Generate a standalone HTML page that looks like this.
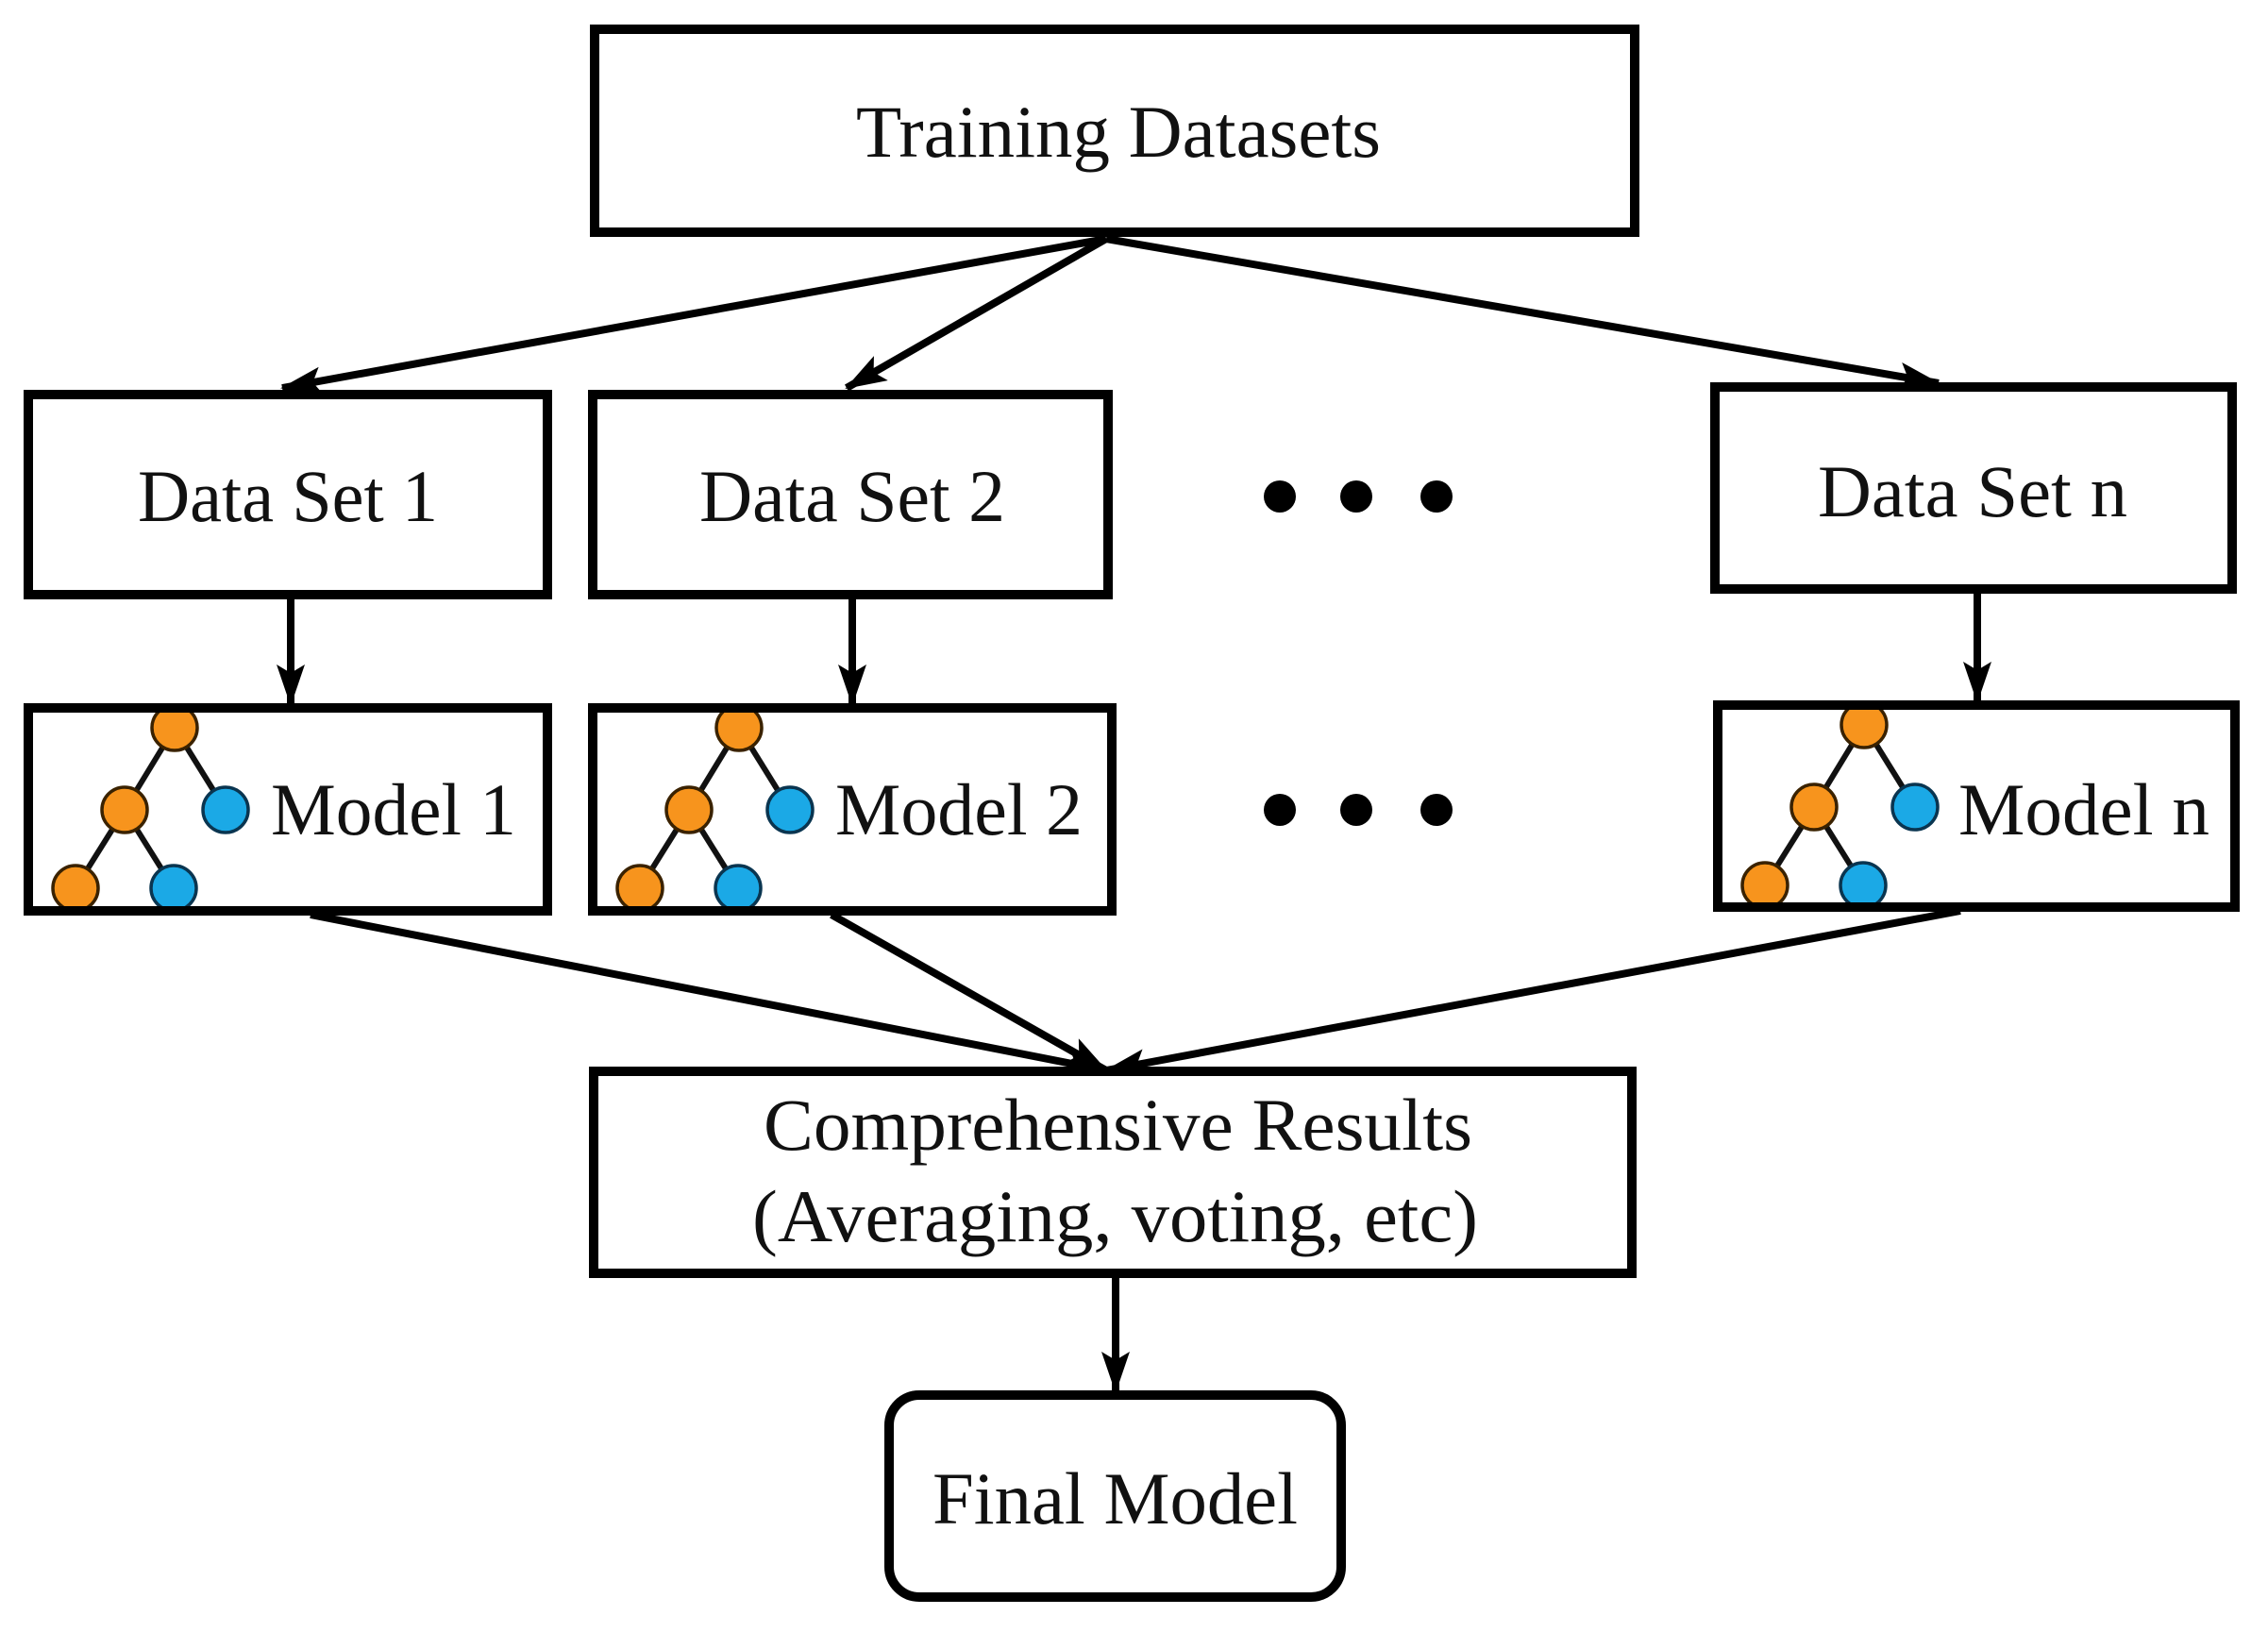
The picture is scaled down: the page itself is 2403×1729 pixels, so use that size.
<!DOCTYPE html>
<html><head><meta charset="utf-8"><style>html,body{margin:0;padding:0;background:#fff}svg{display:block}</style></head>
<body>
<svg width="2403" height="1729" viewBox="0 0 2403 1729" xmlns="http://www.w3.org/2000/svg">
<defs>
<marker id="ah" markerWidth="44" markerHeight="30" refX="42" refY="15" orient="auto" markerUnits="userSpaceOnUse">
<path d="M0,0 L44,15 L0,30 L9,15 Z" fill="#000"/>
</marker>
<g id="tree">
<g stroke="#111" stroke-width="6">
<line x1="159" y1="25" x2="106" y2="112"/><line x1="159" y1="25" x2="213" y2="112"/>
<line x1="106" y1="112" x2="54" y2="195"/><line x1="106" y1="112" x2="158" y2="195"/>
</g>
<g stroke="#3a2200" stroke-width="3.5">
<circle cx="159" cy="25" r="24" fill="#F7941D"/>
<circle cx="106" cy="112" r="24" fill="#F7941D"/>
<circle cx="54" cy="195" r="24" fill="#F7941D"/>
</g>
<g stroke="#0a3550" stroke-width="3.5">
<circle cx="213" cy="112" r="24" fill="#1BA9E6"/>
<circle cx="158" cy="195" r="24" fill="#1BA9E6"/>
</g>
</g>
</defs>
<g font-family="'Liberation Serif', serif" fill="#111" font-size="78">
<g stroke="#000" stroke-width="8" fill="none">
<line x1="1172" y1="253" x2="299" y2="411" marker-end="url(#ah)"/>
<line x1="1172" y1="253" x2="897" y2="411" marker-end="url(#ah)"/>
<line x1="1172" y1="253" x2="2054" y2="406" marker-end="url(#ah)"/>
<line x1="308" y1="634" x2="308" y2="746" marker-end="url(#ah)"/>
<line x1="903" y1="634" x2="903" y2="746" marker-end="url(#ah)"/>
<line x1="2095" y1="628" x2="2095" y2="743" marker-end="url(#ah)"/>
<line x1="329" y1="969" x2="1172" y2="1134" marker-end="url(#ah)"/>
<line x1="881" y1="969" x2="1172" y2="1134" marker-end="url(#ah)"/>
<line x1="2077" y1="965" x2="1172" y2="1134" marker-end="url(#ah)"/>
<line x1="1182" y1="1353" x2="1182" y2="1474" marker-end="url(#ah)"/>
</g>
<g stroke="#000" stroke-width="10" fill="#fff">
<rect x="630" y="31" width="1102" height="215"/>
<rect x="30" y="418" width="550" height="212"/>
<rect x="628" y="418" width="546" height="212"/>
<rect x="1817" y="410" width="548" height="214"/>
<rect x="30" y="750" width="550" height="215"/>
<rect x="628" y="750" width="550" height="215"/>
<rect x="1820" y="747" width="548" height="214"/>
<rect x="629" y="1135" width="1100" height="214"/>
<rect x="942" y="1478" width="479" height="214" rx="32"/>
</g>
<use href="#tree" x="26" y="746"/>
<use href="#tree" x="624" y="746"/>
<use href="#tree" x="1816" y="743"/>
<g stroke="#000" stroke-width="10" fill="none">
<rect x="30" y="750" width="550" height="215"/>
<rect x="628" y="750" width="550" height="215"/>
<rect x="1820" y="747" width="548" height="214"/>
</g>
<g fill="#000">
<circle cx="1356" cy="526" r="17"/><circle cx="1437" cy="526" r="17"/><circle cx="1522" cy="526" r="17"/>
<circle cx="1356" cy="858" r="17"/><circle cx="1437" cy="858" r="17"/><circle cx="1522" cy="858" r="17"/>
</g>
<text x="907" y="166" textLength="556" lengthAdjust="spacingAndGlyphs">Training Datasets</text>
<text x="146" y="552" textLength="318" lengthAdjust="spacingAndGlyphs">Data Set 1</text>
<text x="741" y="552" textLength="324" lengthAdjust="spacingAndGlyphs">Data Set 2</text>
<text x="1926" y="547" textLength="328" lengthAdjust="spacingAndGlyphs">Data Set n</text>
<text x="287" y="884" textLength="260" lengthAdjust="spacingAndGlyphs">Model 1</text>
<text x="885" y="884" textLength="262" lengthAdjust="spacingAndGlyphs">Model 2</text>
<text x="2075" y="884" textLength="266" lengthAdjust="spacingAndGlyphs">Model n</text>
<text x="809" y="1218" textLength="751" lengthAdjust="spacingAndGlyphs">Comprehensive Results</text>
<text x="797" y="1315" textLength="769" lengthAdjust="spacingAndGlyphs">(Averaging, voting, etc)</text>
<text x="988" y="1614" textLength="387" lengthAdjust="spacingAndGlyphs">Final Model</text>
</g>
</svg>
</body></html>
